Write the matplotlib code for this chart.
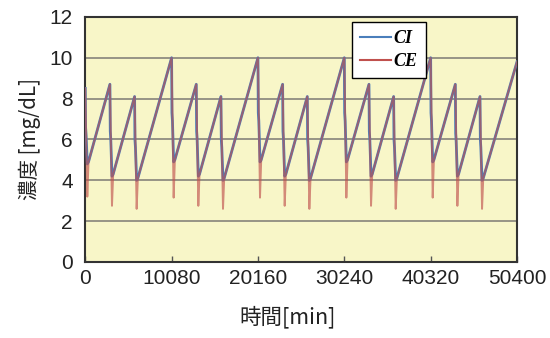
import matplotlib
matplotlib.use("Agg")
import matplotlib.pyplot as plt
import numpy as np

# dialysis session start times [min] and values
starts = [0, 2880, 5760, 10080, 12960, 15840, 20160, 23040, 25920,
          30240, 33120, 36000, 40320, 43200, 46080]
peaks = [8.5, 8.7, 8.1, 10.0, 8.7, 8.1, 10.0, 8.7, 8.1,
         10.0, 8.7, 8.1, 10.0, 8.7, 8.1]
ci_mid = [6.6, 6.4, 6.0, 7.3, 6.4, 6.0, 7.3, 6.4, 6.0,
          7.3, 6.4, 6.0, 7.3, 6.3, 6.0]
ci_low = [4.8, 4.2, 4.0, 4.9, 4.2, 4.0, 4.9, 4.2, 4.0,
          4.9, 4.2, 4.0, 4.9, 4.2, 4.0]
ce_low = [3.2, 2.75, 2.6, 3.15, 2.75, 2.6, 3.15, 2.75, 2.6,
          3.15, 2.75, 2.6, 3.15, 2.75, 2.6]
t_end = 50400
c_end = 9.8

xticks = [0, 10080, 20160, 30240, 40320, 50400]
yticks = [0, 2, 4, 6, 8, 10, 12]

# build the polylines from the read points
ci_t, ci_v, ce_t, ce_v = [], [], [], []
for s, p, m, lo, ce in zip(starts, peaks, ci_mid, ci_low, ce_low):
    ci_t += [s, s + 40, s + 100, s + 240, s + 380]
    ci_v += [p, m, m - 0.4, lo, lo + 0.1]
    ce_t += [s, s + 240, s + 380]
    ce_v += [p, ce, lo + 0.1]
ci_t.append(t_end); ci_v.append(c_end)
ce_t.append(t_end); ce_v.append(c_end)

fig = plt.figure(figsize=(5.5, 3.38), dpi=100)
ax = fig.add_axes([0.155, 0.225, 0.785, 0.725])
ax.set_facecolor("#f8f6c8")

ax.plot(ci_t, ci_v, color="#4a7ebb", lw=2.0, label="CI", zorder=3)
ax.plot(ce_t, ce_v, color="#c0504d", lw=1.4, alpha=0.65, label="CE", zorder=4)

ax.set_xlim(0, 50400)
ax.set_ylim(0, 12)
ax.set_xticks(xticks)
ax.set_yticks(yticks)
ax.tick_params(axis="x", direction="in", length=4, width=1, color="#555555",
               labelsize=15, pad=5)
ax.tick_params(axis="y", length=0, labelsize=15, pad=9)
for lab in ax.get_xticklabels() + ax.get_yticklabels():
    lab.set_fontfamily("Liberation Sans")
    lab.set_color("#222222")

for y in yticks[1:-1]:
    ax.axhline(y, color="#8f8c80", lw=1.3, zorder=1)

for sp in ax.spines.values():
    sp.set_linewidth(1.5)
    sp.set_color("#333333")

ax.set_xlabel("時間[min]", fontfamily=["Noto Sans CJK JP"], fontsize=15.5,
              color="#222222")
ax.xaxis.set_label_coords(0.468, -0.18)
ax.set_ylabel("濃度 [mg/dL]", fontfamily=["Noto Sans CJK JP"], fontsize=14.8,
              color="#222222", labelpad=6)

leg = ax.legend(loc="upper left", bbox_to_anchor=(0.618, 0.978), frameon=True,
                fancybox=False, edgecolor="black", framealpha=1,
                handlelength=1.7, handletextpad=0.15, borderpad=0.45,
                borderaxespad=0, labelspacing=0.3,
                prop={"family": "Liberation Serif", "weight": "bold",
                      "style": "italic", "size": 13})
leg.get_frame().set_linewidth(1.0)
for h in leg.get_lines():
    h.set_linewidth(1.5)
    h.set_alpha(1)

fig.savefig("out.png", dpi=100)
